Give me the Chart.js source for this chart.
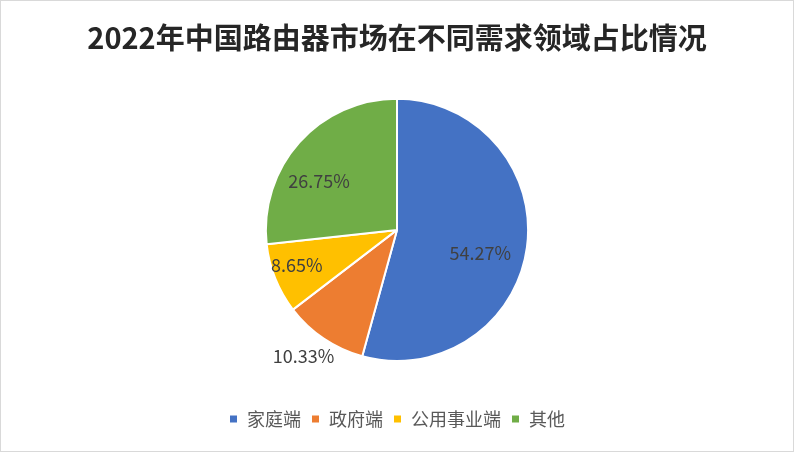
<!DOCTYPE html>
<html>
<head>
<meta charset="utf-8">
<script src="https://cdn.jsdelivr.net/npm/chart.js@4"></script>
<style>
  html, body { margin:0; padding:0; background:#fff; }
  #wrap { width:794px; height:452px; box-sizing:border-box; border:1px solid #d9d9d9; }
  canvas { display:block; }
</style>
</head>
<body>
<div id="wrap"><canvas id="pie_Chart" width="792" height="450"></canvas></div>
<script>
var chartTitle = "2022年中国路由器市场在不同需求领域占比情况";
var categories = ["家庭端", "政府端", "公用事业端", "其他"];
var shares = [54.27, 10.33, 8.65, 26.75];
var sliceColors = ["#4472c4", "#ed7d31", "#ffc000", "#70ad47"];
// label placement: fraction of radius and small angle nudge (degrees)
var labelDist = [0.66, 1.2, 0.81, 0.7];
var labelNudge = [8, 2.5, 2.5, -10];

var fontFam = "'Noto Sans CJK SC', 'Noto Sans', sans-serif";

// draw the percent labels from the arcs chart.js laid out
var pctLabels = {
    id: "pctLabels",
    afterDatasetsDraw: function(chart) {
        var ctx = chart.ctx;
        var meta = chart.getDatasetMeta(0);
        ctx.save();
        ctx.font = "18px " + fontFam;
        ctx.fillStyle = "#404040";
        ctx.textAlign = "center";
        ctx.textBaseline = "middle";
        for (let i = 0; i < meta.data.length; i++) {
            let arc = meta.data[i];
            let mid = (arc.startAngle + arc.endAngle) / 2 + labelNudge[i] * Math.PI / 180;
            let r = arc.outerRadius * labelDist[i];
            let x = arc.x + Math.cos(mid) * r;
            let y = arc.y + Math.sin(mid) * r;
            ctx.fillText(shares[i].toFixed(2) + "%", x, y);
        }
        ctx.restore();
    }
};

var pieChart = new Chart(document.getElementById("pie_Chart"), {
    type: "pie",
    plugins: [pctLabels],
    data: {
        labels: categories,
        datasets: [{
            data: shares,
            backgroundColor: sliceColors,
            borderColor: "#ffffff",
            borderWidth: 2
        }]
    },
    options: {
        responsive: false,
        animation: false,
        layout: { padding: { top: 0, bottom: 13, left: 0, right: 0 } },
        plugins: {
            title: {
                display: true,
                text: chartTitle,
                color: "#262626",
                font: { family: fontFam, size: 29, weight: "bold" },
                padding: { top: 20, bottom: 42 }
            },
            // empty subtitle used as a gap between the pie and the legend
            subtitle: {
                display: true,
                position: "bottom",
                weight: 500,
                text: " ",
                font: { size: 10 },
                padding: { top: 12, bottom: 14 }
            },
            legend: {
                position: "bottom",
                labels: {
                    color: "#595959",
                    font: { family: fontFam, size: 18 },
                    boxWidth: 9,
                    boxHeight: 9,
                    padding: 10
                }
            },
            tooltip: { enabled: false }
        }
    }
});
</script>
</body>
</html>
